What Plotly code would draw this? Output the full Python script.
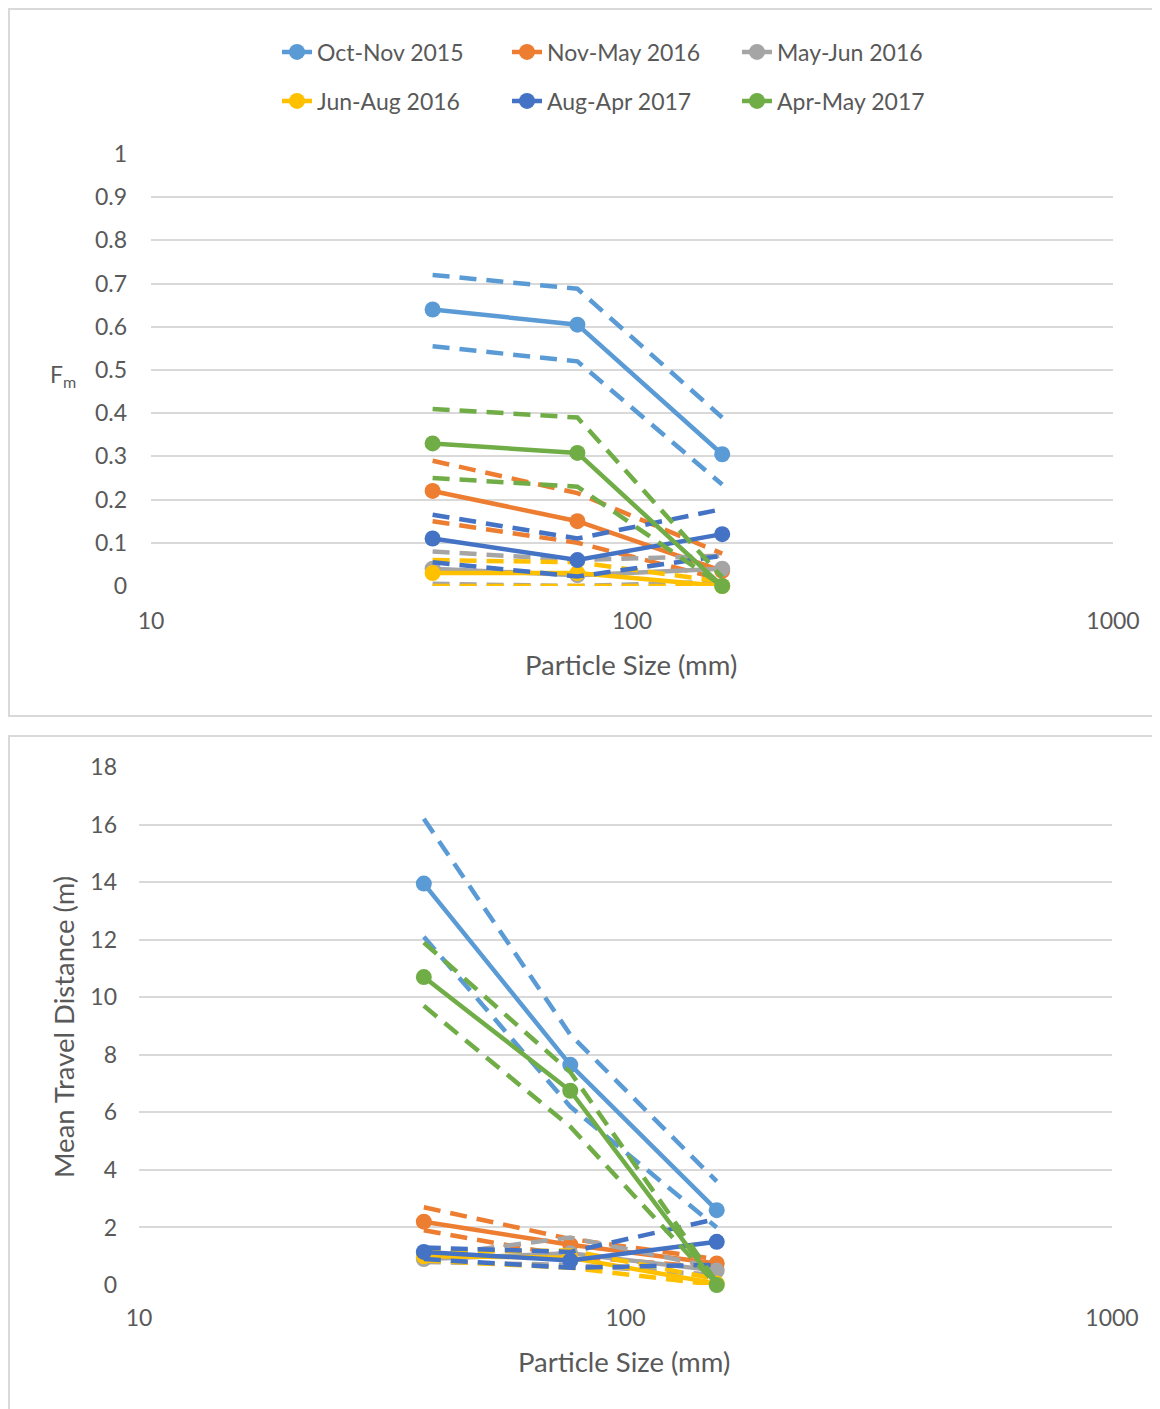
import plotly.graph_objects as go

# ---------------- data ----------------
sizes = [38.5, 77, 154]
series_names = ["Oct-Nov 2015", "Nov-May 2016", "May-Jun 2016",
                "Jun-Aug 2016", "Aug-Apr 2017", "Apr-May 2017"]
colors = ["#5B9BD5", "#ED7D31", "#A5A5A5", "#FFC000", "#4472C4", "#70AD47"]

# Top panel: Fm (mean, upper bound, lower bound)
fm_mean = [
    [0.64, 0.605, 0.305],
    [0.22, 0.15, 0.035],
    [0.04, 0.025, 0.04],
    [0.03, 0.03, 0.0],
    [0.11, 0.06, 0.12],
    [0.33, 0.308, 0.0],
]
fm_upper = [
    [0.72, 0.688, 0.39],
    [0.29, 0.215, 0.075],
    [0.08, 0.06, 0.07],
    [0.06, 0.055, 0.01],
    [0.165, 0.11, 0.178],
    [0.41, 0.39, 0.02],
]
fm_lower = [
    [0.555, 0.52, 0.235],
    [0.15, 0.10, 0.015],
    [0.005, 0.0, 0.01],
    [0.0, 0.0, 0.0],
    [0.055, 0.022, 0.07],
    [0.25, 0.23, 0.0],
]

# Bottom panel: mean travel distance (m)
dist_mean = [
    [13.95, 7.65, 2.6],
    [2.2, 1.4, 0.75],
    [0.9, 1.1, 0.5],
    [1.0, 0.95, 0.05],
    [1.15, 0.85, 1.5],
    [10.7, 6.75, 0.0],
]
dist_upper = [
    [16.2, 8.7, 3.6],
    [2.7, 1.6, 0.9],
    [1.0, 1.65, 0.6],
    [1.15, 1.2, 0.2],
    [1.3, 1.15, 2.3],
    [11.9, 7.4, 0.1],
]
dist_lower = [
    [12.1, 6.2, 2.0],
    [1.9, 1.0, 0.6],
    [0.8, 0.7, 0.35],
    [0.85, 0.6, 0.0],
    [0.9, 0.6, 0.7],
    [9.7, 5.5, 0.0],
]

x_tickvals = [10, 100, 1000]

# ---------------- figure ----------------
OFF = 8                      # page body margin
W, H = 1160 - OFF, 1409 - OFF
FONT = "Lato, 'Open Sans', sans-serif"
GREY_TXT = "#595959"
GRID = "#D9D9D9"
LW = 4.5
DASH = "17px,10px"

fig = go.Figure()


def px_x(p):
    return (p - OFF) / W


def px_y(p):
    return 1 - (p - OFF) / H


for panel, (means, ups, lows, xa, ya) in enumerate([
    (fm_mean, fm_upper, fm_lower, "x", "y"),
    (dist_mean, dist_upper, dist_lower, "x2", "y2"),
]):
    for i, name in enumerate(series_names):
        c = colors[i]
        for bound in (ups[i], lows[i]):
            fig.add_trace(go.Scatter(
                x=sizes, y=bound, mode="lines", xaxis=xa, yaxis=ya,
                line=dict(color=c, width=LW, dash=DASH),
                showlegend=False, cliponaxis=False, hoverinfo="skip"))
        fig.add_trace(go.Scatter(
            x=sizes, y=means[i], mode="lines+markers", name=name,
            xaxis=xa, yaxis=ya,
            line=dict(color=c, width=LW),
            marker=dict(color=c, size=16),
            showlegend=(panel == 0),
            legend=("legend" if i < 3 else "legend2"),
            cliponaxis=False))

axis_font = dict(family=FONT, size=23, color=GREY_TXT)

common_x = dict(type="log", range=[1, 3], tickvals=x_tickvals,
                ticktext=[str(v) for v in x_tickvals],
                showgrid=False, showline=False, zeroline=False,
                ticks="", tickfont=axis_font)
common_y = dict(showgrid=True, gridcolor=GRID, gridwidth=1.5,
                showline=False, zeroline=False, ticks="",
                tickfont=axis_font)

legend_common = dict(orientation="h", xanchor="left", yanchor="middle",
                     font=dict(family=FONT, size=23, color=GREY_TXT),
                     bgcolor="rgba(0,0,0,0)", entrywidth=185,
                     entrywidthmode="pixels", itemclick=False)

TITLE_FONT = dict(family=FONT, size=27.5, color=GREY_TXT)

fig.update_layout(
    width=W, height=H,
    margin=dict(l=0, r=0, t=0, b=0, pad=0, autoexpand=False),
    paper_bgcolor="white", plot_bgcolor="white",
    font=dict(family=FONT, color=GREY_TXT),
    xaxis=dict(domain=[px_x(151), px_x(1113)], anchor="y",
               ticklabelstandoff=19, **common_x),
    yaxis=dict(domain=[px_y(586), px_y(154)], anchor="x",
               range=[0, 1], dtick=0.1, ticklabelstandoff=23, **common_y),
    xaxis2=dict(domain=[px_x(139), px_x(1112)], anchor="y2",
                ticklabelstandoff=17, **common_x),
    yaxis2=dict(domain=[px_y(1285), px_y(767)], anchor="x2",
                range=[0, 18], dtick=2, ticklabelstandoff=21, **common_y),
    legend=dict(x=px_x(277), y=px_y(52), **legend_common),
    legend2=dict(x=px_x(277), y=px_y(101), **legend_common),
    showlegend=True,
    shapes=[
        dict(type="rect", xref="paper", yref="paper",
             x0=px_x(9), x1=1.02, y0=px_y(716), y1=px_y(9),
             line=dict(color=GRID, width=2), fillcolor="rgba(0,0,0,0)",
             layer="below"),
        dict(type="rect", xref="paper", yref="paper",
             x0=px_x(9), x1=1.02, y0=-0.02, y1=px_y(736),
             line=dict(color=GRID, width=2), fillcolor="rgba(0,0,0,0)",
             layer="below"),
    ],
    annotations=[
        dict(text="Particle Size (mm)", xref="paper", yref="paper",
             x=px_x(631), y=px_y(664), xanchor="center", yanchor="middle",
             showarrow=False, font=TITLE_FONT),
        dict(text="F<sub>m</sub>", xref="paper", yref="paper",
             x=px_x(63), y=px_y(375), xanchor="center", yanchor="middle",
             showarrow=False,
             font=dict(family=FONT, size=23, color=GREY_TXT)),
        dict(text="Mean Travel Distance (m)", xref="paper", yref="paper",
             x=px_x(63), y=px_y(1027), xanchor="center", yanchor="middle",
             showarrow=False, textangle=-90, font=TITLE_FONT),
        dict(text="Particle Size (mm)", xref="paper", yref="paper",
             x=px_x(624), y=px_y(1361), xanchor="center", yanchor="middle",
             showarrow=False, font=TITLE_FONT),
    ],
)

fig.write_html("out.html")
